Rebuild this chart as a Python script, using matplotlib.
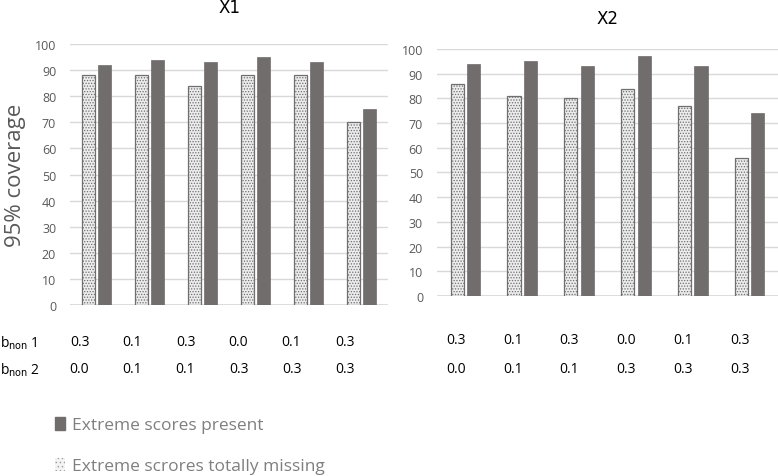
import numpy as np
import matplotlib.pyplot as plt
from matplotlib.patches import Patch
import matplotlib.transforms as mtransforms

# data
x1_missing = [88, 88, 84, 88, 88, 70]
x1_present = [92, 94, 93, 95, 93, 75]
x2_missing = [86, 81, 80, 84, 77, 56]
x2_present = [94, 95, 93, 97, 93, 74]
b_non1 = ['0.3', '0.1', '0.3', '0.0', '0.1', '0.3']
b_non2 = ['0.0', '0.1', '0.1', '0.3', '0.3', '0.3']
yticks = [0, 10, 20, 30, 40, 50, 60, 70, 80, 90, 100]

dark = '#716d6d'
light = '#ececec'
edge = '#6f6f6f'
grid = '#d9d9d9'
tickc = '#595959'

plt.rcParams['font.family'] = ['Open Sans', 'DejaVu Sans']
plt.rcParams['hatch.color'] = '#9a9a9a'
plt.rcParams['hatch.linewidth'] = 0.6

fig = plt.figure(figsize=(7.78, 4.77), dpi=100)
ax1 = fig.add_axes([0.09, 0.3585, 0.4087, 0.547])
ax2 = fig.add_axes([0.5617, 0.3774, 0.4383, 0.5178])

x = np.arange(6)


def draw(ax, miss, pres, w, off):
    ax.bar(x - off, miss, w, color=light, edgecolor=edge, linewidth=0.9,
           hatch='......', zorder=3)
    ax.bar(x + off, pres, w, color=dark, edgecolor=dark, linewidth=0.5,
           zorder=3)
    ax.set_xlim(-0.5, 5.5)
    ax.set_ylim(0, 100)
    ax.set_yticks(yticks)
    ax.set_xticks([])
    ax.grid(axis='y', color=grid, linewidth=1, zorder=0)
    for s in ax.spines.values():
        s.set_visible(False)
    ax.tick_params(axis='y', length=0, labelsize=9, labelcolor=tickc, pad=10)
    ax.axhline(0, color=grid, linewidth=1.2, zorder=1)


draw(ax1, x1_missing, x1_present, 0.24, 0.145)
draw(ax2, x2_missing, x2_present, 0.23, 0.145)
ax1.set_title('X1', fontsize=12, family='DejaVu Sans', y=1.09)
ax2.set_title('X2', fontsize=12, family='DejaVu Sans', y=1.07)

ax1.set_ylabel('95% coverage', fontsize=16, color=tickc, labelpad=6)

# parameter rows under the bars
tr1 = mtransforms.blended_transform_factory(ax1.transData, fig.transFigure)
tr2 = mtransforms.blended_transform_factory(ax2.transData, fig.transFigure)
for i in range(6):
    ax1.text(i - 0.32, 1 - 343 / 477, b_non1[i], transform=tr1, ha='center',
             va='center', fontsize=10)
    ax1.text(i - 0.32, 1 - 370 / 477, b_non2[i], transform=tr1, ha='center',
             va='center', fontsize=10)
    ax2.text(i - 0.17, 1 - 341 / 477, b_non1[i], transform=tr2, ha='center',
             va='center', fontsize=10)
    ax2.text(i - 0.17, 1 - 370 / 477, b_non2[i], transform=tr2, ha='center',
             va='center', fontsize=10)
fig.text(0.0, 1 - 343 / 477, r'b$_{\rm non}$ 1', va='center', fontsize=10)
fig.text(0.0, 1 - 370 / 477, r'b$_{\rm non}$ 2', va='center', fontsize=10)

handles = [Patch(facecolor=dark, edgecolor=dark),
           Patch(facecolor='#f4f4f4', edgecolor='#a0a0a0', linewidth=0,
                 hatch='....')]
labels = ['Extreme scores present', 'Extreme scrores totally missing']
fig.legend(handles, labels, loc='upper left', bbox_to_anchor=(0.05, 0.157),
           frameon=False, fontsize=12.5, labelcolor='#7f7f7f', handlelength=0.6,
           handleheight=0.8, handletextpad=0.4, labelspacing=1.4)

fig.savefig('out.png', dpi=100)
